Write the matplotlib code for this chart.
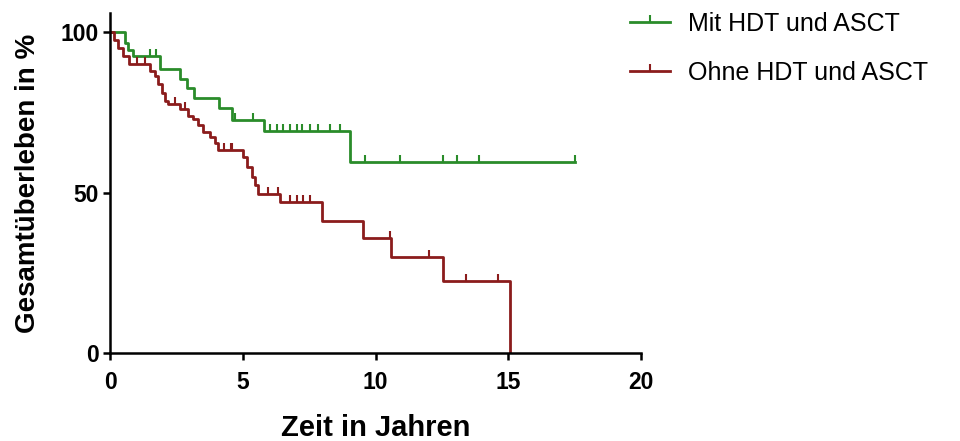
import numpy as np
import matplotlib
matplotlib.use("Agg")
import matplotlib.pyplot as plt
from matplotlib.lines import Line2D

plt.rcParams['font.family'] = ['Liberation Sans', 'DejaVu Sans']

# Kaplan-Meier Stufen (Zeit in Jahren, Überleben in %)
mit_t = [0, 0.55, 0.68, 0.85, 1.9, 2.65, 2.9, 3.15, 4.1, 4.6, 5.8, 9.05, 17.5]
mit_s = [100, 96.5, 94.5, 92.5, 88.5, 85.5, 82.5, 79.5, 76.5, 72.8, 69.2, 59.4, 59.4]
mit_zensiert = [1.5, 1.75, 4.7, 5.4, 6.03, 6.29, 6.52, 6.78, 7.04, 7.23, 7.53, 7.83,
                8.29, 8.66, 9.6, 10.92, 12.54, 13.07, 13.9, 17.5]

ohne_t = [0, 0.15, 0.3, 0.5, 0.7, 1.5, 1.7, 1.8, 1.96, 2.07, 2.18, 2.64, 2.94, 3.13,
          3.31, 3.5, 3.77, 3.95, 4.07, 5.0, 5.16, 5.35, 5.46, 5.57, 6.4, 7.98, 9.53,
          10.6, 12.55, 15.07]
ohne_s = [100, 97.5, 95, 92.5, 90, 88, 86.5, 84, 81, 78.5, 77.5, 76, 74, 73,
          71, 69, 67.5, 65.6, 63.4, 61, 58, 55, 52.5, 49.5, 47, 41.2, 36,
          30, 22.5, 0]
ohne_zensiert = [1.0, 1.3, 2.45, 2.82, 4.3, 4.55, 4.6, 5.95, 6.33, 6.78, 7.04, 7.27,
                 7.53, 10.55, 12.0, 13.4, 14.6]

gruen = '#2a8c2a'
rot = '#8b1c1c'


def stufe(t, s, x):
    i = np.searchsorted(t, x, side='right') - 1
    return np.asarray(s)[i]


fig = plt.figure(figsize=(9.6, 4.41), dpi=100)
ax = fig.add_axes([0.1146, 0.1995, 0.5531, 0.771])

ax.step(mit_t, mit_s, where='post', color=gruen, lw=2)
ax.plot(mit_zensiert, stufe(mit_t, mit_s, mit_zensiert), linestyle='none',
        marker=2, ms=5, mew=1.5, color=gruen)
ax.step(ohne_t, ohne_s, where='post', color=rot, lw=2)
ax.plot(ohne_zensiert, stufe(ohne_t, ohne_s, ohne_zensiert), linestyle='none',
        marker=2, ms=5, mew=1.5, color=rot)

ax.set_xlim(0, 20)
ax.set_ylim(0, 106)
ax.set_xticks([0, 5, 10, 15, 20])
ax.set_yticks([0, 50, 100])
for s in ['top', 'right']:
    ax.spines[s].set_visible(False)
for s in ['left', 'bottom']:
    ax.spines[s].set_linewidth(1.8)
ax.tick_params(direction='out', length=5, width=1.8, labelsize=16.5, pad=3)
ax.tick_params(axis='x', pad=8)
for lab in ax.get_xticklabels() + ax.get_yticklabels():
    lab.set_fontweight('bold')

ax.set_xlabel('Zeit in Jahren', fontsize=21, fontweight='bold', labelpad=14)
ax.set_ylabel('Gesamtüberleben in %', fontsize=20, fontweight='bold', labelpad=14)

handles = [Line2D([], [], color=gruen, lw=2, marker=2, ms=5, mew=1.5),
           Line2D([], [], color=rot, lw=2, marker=2, ms=5, mew=1.5)]
fig.legend(handles, ['Mit HDT und ASCT', 'Ohne HDT und ASCT'], loc='upper left',
           bbox_to_anchor=(0.646, 0.996), borderaxespad=0, frameon=False, fontsize=18,
           handlelength=1.6, handletextpad=0.7, labelspacing=1.0)

fig.savefig('out.png', dpi=100)
